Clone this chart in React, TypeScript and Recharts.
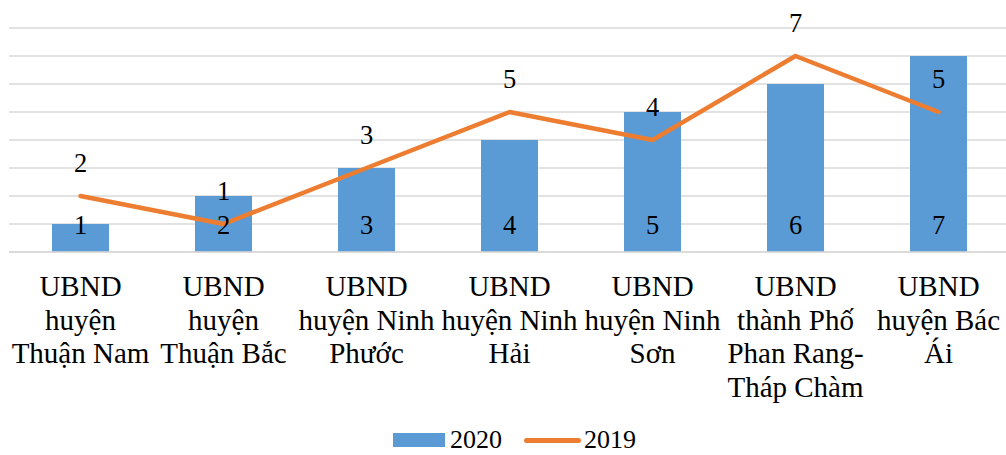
import React from "react";
import { ComposedChart, Bar, Line, XAxis, YAxis, CartesianGrid, Legend, LabelList } from "recharts";

// category labels, broken into lines the way the original wraps them
const categories = [
  "UBND\nhuyện\nThuận Nam",
  "UBND\nhuyện\nThuận Bắc",
  "UBND\nhuyện Ninh\nPhước",
  "UBND\nhuyện Ninh\nHải",
  "UBND\nhuyện Ninh\nSơn",
  "UBND\nthành Phố\nPhan Rang-\nTháp Chàm",
  "UBND\nhuyện Bác\nÁi",
];
const values2020 = [1, 2, 3, 4, 5, 6, 7];
const values2019 = [2, 1, 3, 5, 4, 7, 5];
const yTicks = [0, 1, 2, 3, 4, 5, 6, 7, 8];

const data = categories.map((name, i) => ({ name, v2020: values2020[i], v2019: values2019[i] }));

const FONT = "Liberation Serif, Times New Roman, serif";
const BLUE = "#5b9bd5";
const ORANGE = "#ed7d31";

const CategoryTick = (props: any) => {
  const { x, y, payload } = props;
  const lines = String(payload.value).split("\n");
  return (
    <text x={x} y={y} textAnchor="middle" style={{ fontFamily: FONT }} fontSize={29} fill="#000">
      {lines.map((line, i) => (
        <tspan key={i} x={x} dy={i === 0 ? 44 : 33.5}>
          {line}
        </tspan>
      ))}
    </text>
  );
};

const BarLabel = (props: any) => {
  const { x, y, width, height, value } = props;
  return (
    <text x={x + width / 2} y={y + height - 18} textAnchor="middle" style={{ fontFamily: FONT }} fontSize={26.5} fill="#000">
      {value}
    </text>
  );
};

const LineLabel = (props: any) => {
  const { x, y, value } = props;
  return (
    <text x={x} y={y - 24} textAnchor="middle" style={{ fontFamily: FONT }} fontSize={26.5} fill="#000">
      {value}
    </text>
  );
};

const LegendContent = (props: any) => {
  const items = [...(props.payload || [])].sort((a: any, b: any) => (a.type === "line" ? 1 : 0) - (b.type === "line" ? 1 : 0));
  return (
    <div style={{ display: "flex", alignItems: "center", height: 22, fontFamily: FONT, fontSize: 26, lineHeight: "22px", color: "#000", whiteSpace: "nowrap" }}>
      {items.map((entry: any, i: number) =>
        entry.type === "line" ? (
          <React.Fragment key={i}>
            <span style={{ display: "inline-block", width: 57, height: 5, borderRadius: 3, background: ORANGE, marginRight: 3 }} />
            <span>{entry.value}</span>
          </React.Fragment>
        ) : (
          <React.Fragment key={i}>
            <span style={{ display: "inline-block", width: 52, height: 14, background: BLUE, marginRight: 5 }} />
            <span style={{ marginRight: 22 }}>{entry.value}</span>
          </React.Fragment>
        )
      )}
    </div>
  );
};

export default function App() {
  return (
    <div style={{ position: "absolute", left: 0, top: 0, width: 1006, height: 455, overflow: "hidden", background: "#fff" }}>
      <ComposedChart width={1010} height={455} data={data} margin={{ top: 28, right: 0, bottom: 33, left: 9 }}>
        <CartesianGrid vertical={false} stroke="#d9d9d9" strokeWidth={1.3} />
        <XAxis
          dataKey="name"
          interval={0}
          height={170}
          tickLine={false}
          tickSize={0}
          tickMargin={0}
          axisLine={{ stroke: "#d9d9d9", strokeWidth: 1.5 }}
          tick={<CategoryTick />}
        />
        <YAxis hide domain={[0, 8]} ticks={yTicks} />
        <Legend
          verticalAlign="middle"
          align="center"
          content={<LegendContent />}
          wrapperStyle={{ top: 429, left: 393, width: 320, height: 22 }}
        />
        <Bar dataKey="v2020" name="2020" fill={BLUE} barSize={57} isAnimationActive={false} legendType="rect">
          <LabelList dataKey="v2020" content={<BarLabel />} />
        </Bar>
        <Line
          dataKey="v2019"
          name="2019"
          stroke={ORANGE}
          strokeWidth={4.5}
          strokeLinecap="round"
          strokeLinejoin="round"
          dot={false}
          activeDot={false}
          isAnimationActive={false}
          legendType="line"
        >
          <LabelList dataKey="v2019" content={<LineLabel />} />
        </Line>
      </ComposedChart>
    </div>
  );
}
